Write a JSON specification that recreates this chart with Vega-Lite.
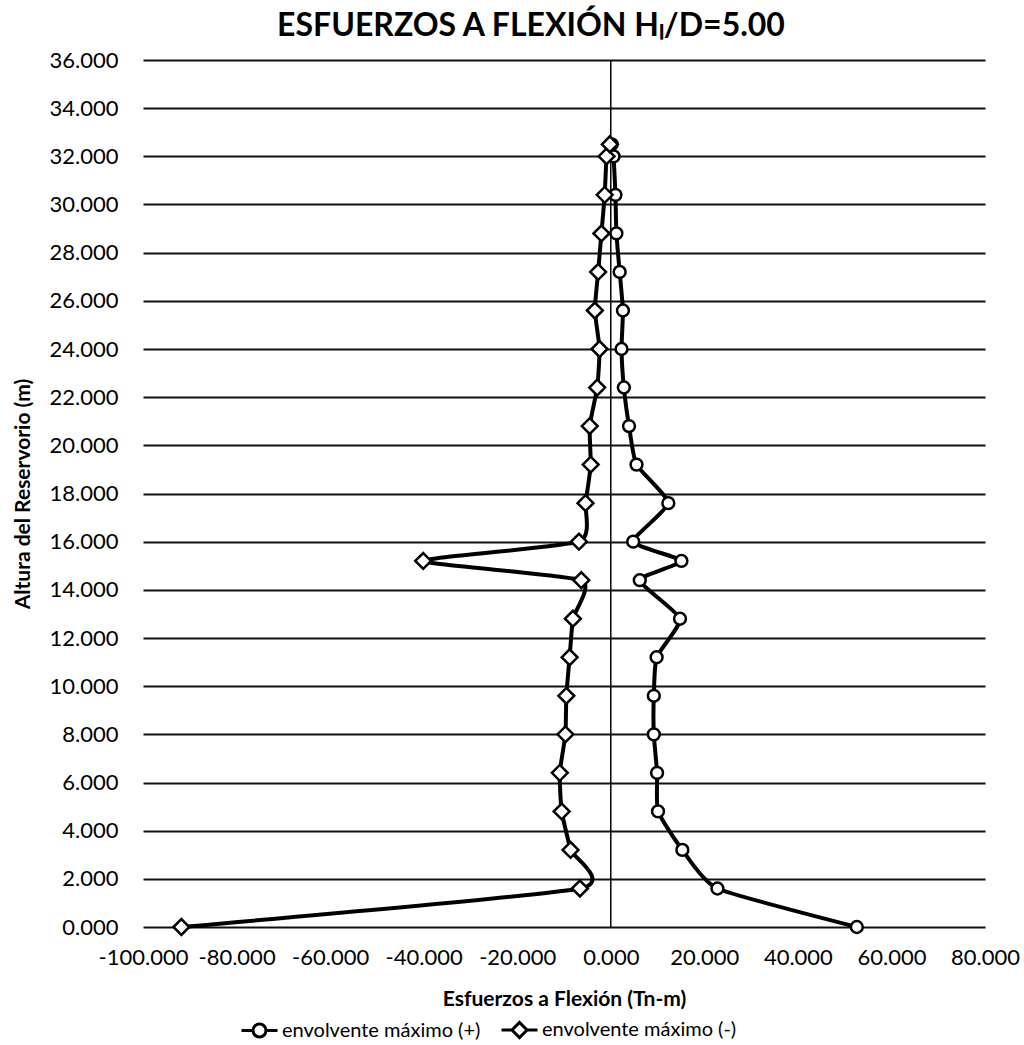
{
  "$schema": "https://vega.github.io/schema/vega-lite/v6.json",
  "width": 842,
  "height": 867,
  "autosize": {"type": "none"},
  "padding": {"left": 143, "top": 60, "right": 39, "bottom": 118},
  "background": "white",
  "title": {
    "text": "ESFUERZOS A FLEXIÓN Hₗ/D=5.00",
    "font": "Lato",
    "fontSize": 32,
    "fontWeight": "bold",
    "color": "black",
    "anchor": "middle",
    "dx": -33,
    "offset": 6
  },
  "config": {
    "view": {"stroke": null},
    "axis": {"labelFont": "Lato", "titleFont": "Lato", "labelColor": "black", "titleColor": "black"}
  },
  "datasets": {
    "series": [
      {"h": 0.0, "v": 52.6, "s": "envolvente máximo (+)"},
      {"h": 1.6, "v": 22.8, "s": "envolvente máximo (+)"},
      {"h": 3.2, "v": 15.3, "s": "envolvente máximo (+)"},
      {"h": 4.8, "v": 10.1, "s": "envolvente máximo (+)"},
      {"h": 6.4, "v": 9.9, "s": "envolvente máximo (+)"},
      {"h": 8.0, "v": 9.2, "s": "envolvente máximo (+)"},
      {"h": 9.6, "v": 9.2, "s": "envolvente máximo (+)"},
      {"h": 11.2, "v": 9.8, "s": "envolvente máximo (+)"},
      {"h": 12.8, "v": 14.8, "s": "envolvente máximo (+)"},
      {"h": 14.4, "v": 6.2, "s": "envolvente máximo (+)"},
      {"h": 15.2, "v": 15.1, "s": "envolvente máximo (+)"},
      {"h": 16.0, "v": 4.8, "s": "envolvente máximo (+)"},
      {"h": 17.6, "v": 12.3, "s": "envolvente máximo (+)"},
      {"h": 19.2, "v": 5.5, "s": "envolvente máximo (+)"},
      {"h": 20.8, "v": 3.9, "s": "envolvente máximo (+)"},
      {"h": 22.4, "v": 2.8, "s": "envolvente máximo (+)"},
      {"h": 24.0, "v": 2.3, "s": "envolvente máximo (+)"},
      {"h": 25.6, "v": 2.6, "s": "envolvente máximo (+)"},
      {"h": 27.2, "v": 1.9, "s": "envolvente máximo (+)"},
      {"h": 28.8, "v": 1.2, "s": "envolvente máximo (+)"},
      {"h": 30.4, "v": 1.0, "s": "envolvente máximo (+)"},
      {"h": 32.0, "v": 0.6, "s": "envolvente máximo (+)"},
      {"h": 32.5, "v": 0.2, "s": "envolvente máximo (+)"},
      {"h": 0.0, "v": -91.8, "s": "envolvente máximo (-)"},
      {"h": 1.6, "v": -6.6, "s": "envolvente máximo (-)"},
      {"h": 3.2, "v": -8.6, "s": "envolvente máximo (-)"},
      {"h": 4.8, "v": -10.5, "s": "envolvente máximo (-)"},
      {"h": 6.4, "v": -10.9, "s": "envolvente máximo (-)"},
      {"h": 8.0, "v": -9.7, "s": "envolvente máximo (-)"},
      {"h": 9.6, "v": -9.5, "s": "envolvente máximo (-)"},
      {"h": 11.2, "v": -8.8, "s": "envolvente máximo (-)"},
      {"h": 12.8, "v": -8.1, "s": "envolvente máximo (-)"},
      {"h": 14.4, "v": -6.3, "s": "envolvente máximo (-)"},
      {"h": 15.2, "v": -40.1, "s": "envolvente máximo (-)"},
      {"h": 16.0, "v": -6.8, "s": "envolvente máximo (-)"},
      {"h": 17.6, "v": -5.4, "s": "envolvente máximo (-)"},
      {"h": 19.2, "v": -4.3, "s": "envolvente máximo (-)"},
      {"h": 20.8, "v": -4.5, "s": "envolvente máximo (-)"},
      {"h": 22.4, "v": -2.9, "s": "envolvente máximo (-)"},
      {"h": 24.0, "v": -2.4, "s": "envolvente máximo (-)"},
      {"h": 25.6, "v": -3.4, "s": "envolvente máximo (-)"},
      {"h": 27.2, "v": -2.7, "s": "envolvente máximo (-)"},
      {"h": 28.8, "v": -2.0, "s": "envolvente máximo (-)"},
      {"h": 30.4, "v": -1.3, "s": "envolvente máximo (-)"},
      {"h": 32.0, "v": -0.9, "s": "envolvente máximo (-)"},
      {"h": 32.5, "v": -0.2, "s": "envolvente máximo (-)"}
    ]
  },
  "layer": [
    {
      "data": {"values": [{"v": 0}]},
      "mark": {"type": "rule", "color": "black", "strokeWidth": 1.5},
      "encoding": {
        "x": {"field": "v", "type": "quantitative", "scale": {"domain": [-100, 80], "nice": false, "zero": false}, "axis": {"title": "Esfuerzos a Flexión (Tn-m)", "values": [-100, -80, -60, -40, -20, 0, 20, 40, 60, 80], "labelExpr": "(datum.value < 0 ? '-' : '') + format(abs(datum.value), '.3f')", "labelFontSize": 22, "labelPadding": 20, "labelFlush": false, "ticks": false, "domain": false, "grid": false, "titleFontSize": 21, "titleFontWeight": "bold", "titlePadding": 20, "labelOverlap": false}}
      }
    },
    {
      "data": {"name": "series"},
      "mark": {"type": "line", "strokeWidth": 4, "interpolate": "cardinal", "tension": 0.5},
      "encoding": {
        "x": {"field": "v", "type": "quantitative", "scale": {"domain": [-100, 80], "nice": false, "zero": false}, "axis": {"title": "Esfuerzos a Flexión (Tn-m)", "values": [-100, -80, -60, -40, -20, 0, 20, 40, 60, 80], "labelExpr": "(datum.value < 0 ? '-' : '') + format(abs(datum.value), '.3f')", "labelFontSize": 22, "labelPadding": 20, "labelFlush": false, "ticks": false, "domain": false, "grid": false, "titleFontSize": 21, "titleFontWeight": "bold", "titlePadding": 20, "labelOverlap": false}},
        "y": {"field": "h", "type": "quantitative", "scale": {"domain": [0, 36], "nice": false}, "axis": {"title": "Altura del Reservorio (m)", "values": [0, 2, 4, 6, 8, 10, 12, 14, 16, 18, 20, 22, 24, 26, 28, 30, 32, 34, 36], "format": ".3f", "labelFontSize": 22, "labelPadding": 25, "labelFlush": false, "ticks": false, "domain": false, "grid": true, "gridColor": "#111111", "gridWidth": 2, "gridOpacity": 1, "titleFontSize": 21, "titleFontWeight": "bold", "titlePadding": 16, "labelOverlap": false}},
        "order": {"field": "h", "type": "quantitative"},
        "color": {
          "field": "s", "type": "nominal",
          "scale": {"domain": ["envolvente máximo (+)", "envolvente máximo (-)"], "range": ["black", "black"]},
          "legend": {
            "orient": "none", "legendX": 97, "legendY": 950, "direction": "horizontal", "title": null,
            "labelFont": "Lato", "labelFontSize": 20, "labelColor": "black", "labelLimit": 400,
            "symbolSize": 1296, "symbolStrokeWidth": 3, "columnPadding": 14, "labelOffset": 3,
            "encode": {"symbols": {"update": {
              "shape": {"signal": "datum.value === 'envolvente máximo (+)' ? 'M-1,0H-0.36M0.36,0H1M-0.36,0A0.36,0.36 0 1,0 0.36,0A0.36,0.36 0 1,0 -0.36,0Z' : 'M-1,0H-0.42M0.42,0H1M-0.42,0L0,-0.42L0.42,0L0,0.42Z'"},
              "stroke": {"value": "black"},
              "fill": {"value": "white"},
              "strokeWidth": {"value": 3}
            }}}
          }
        }
      }
    },
    {
      "data": {"name": "series"},
      "transform": [{"filter": "datum.s === 'envolvente máximo (+)'"}],
      "mark": {"type": "point", "shape": "circle", "filled": true, "fill": "white", "stroke": "black", "strokeWidth": 2.5, "size": 140, "opacity": 1},
      "encoding": {
        "x": {"field": "v", "type": "quantitative"},
        "y": {"field": "h", "type": "quantitative"}
      }
    },
    {
      "data": {"name": "series"},
      "transform": [{"filter": "datum.s === 'envolvente máximo (-)'"}],
      "mark": {"type": "point", "shape": "diamond", "filled": true, "fill": "white", "stroke": "black", "strokeWidth": 2.5, "size": 250, "opacity": 1},
      "encoding": {
        "x": {"field": "v", "type": "quantitative"},
        "y": {"field": "h", "type": "quantitative"}
      }
    }
  ]
}
